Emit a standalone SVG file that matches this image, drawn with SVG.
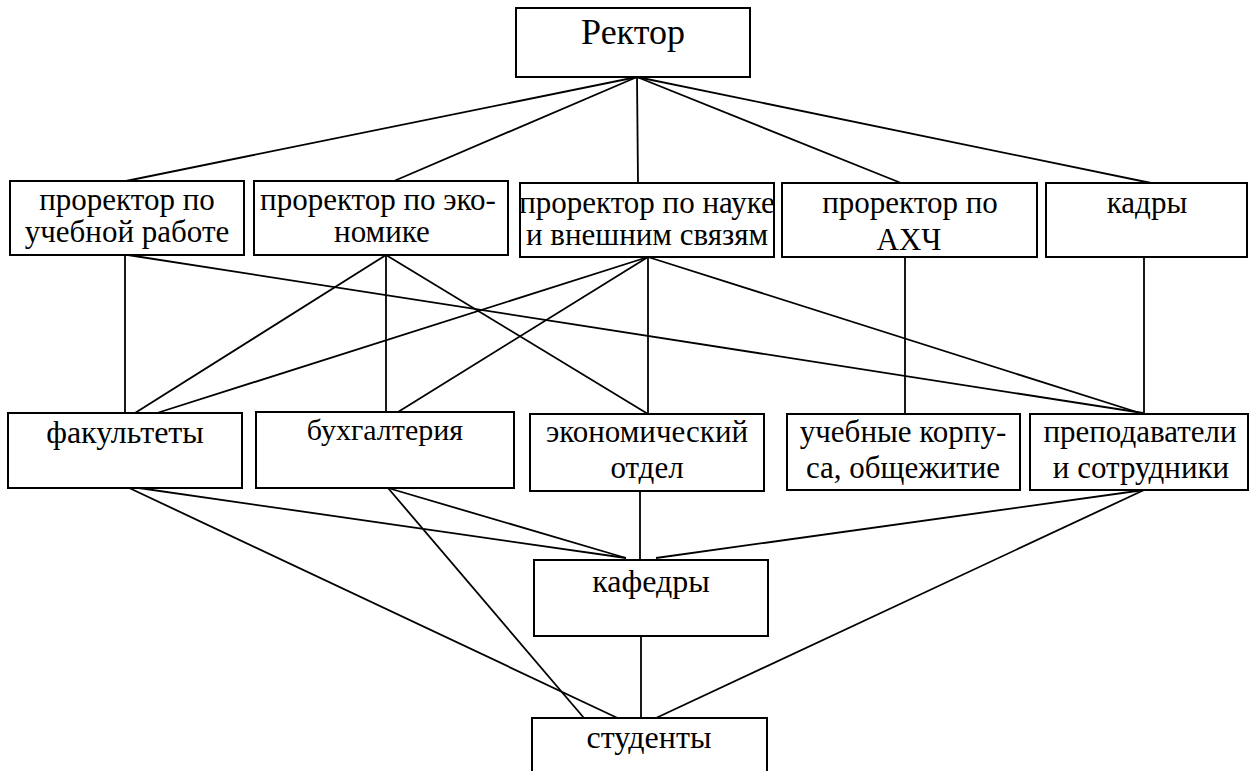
<svg xmlns="http://www.w3.org/2000/svg" width="1250" height="771" viewBox="0 0 1250 771" xml:lang="ru">
<style>
rect{fill:#fff;stroke:#000;stroke-width:2}
line{stroke:#000;stroke-width:1.8}
text{fill:#000;text-anchor:middle;font-family:'Liberation Serif','Times New Roman',serif !important}
</style>
<rect x="0" y="0" width="1250" height="771" style="stroke:none"/>
<g id="connectors">
<line x1="637" y1="77" x2="126" y2="181"/>
<line x1="637" y1="77" x2="394" y2="181"/>
<line x1="637" y1="77" x2="638" y2="183"/>
<line x1="637" y1="77" x2="901" y2="183"/>
<line x1="637" y1="77" x2="1151" y2="183"/>
<line x1="125" y1="255" x2="125" y2="413"/>
<line x1="128" y1="255" x2="1143" y2="413"/>
<line x1="386" y1="255" x2="135" y2="413"/>
<line x1="386" y1="255" x2="386" y2="412"/>
<line x1="386" y1="255" x2="648" y2="414"/>
<line x1="648" y1="257" x2="157" y2="413"/>
<line x1="648" y1="257" x2="398" y2="412"/>
<line x1="648" y1="257" x2="648" y2="414"/>
<line x1="648" y1="257" x2="1143" y2="414"/>
<line x1="905" y1="257" x2="905" y2="414"/>
<line x1="1144" y1="257" x2="1144" y2="414"/>
<line x1="125" y1="486" x2="626" y2="558"/>
<line x1="388" y1="488" x2="626" y2="558"/>
<line x1="640" y1="490" x2="640" y2="560"/>
<line x1="1144" y1="490" x2="656" y2="558"/>
<line x1="125" y1="486" x2="626" y2="722"/>
<line x1="388" y1="488" x2="584" y2="718"/>
<line x1="641" y1="636" x2="641" y2="718"/>
<line x1="1144" y1="490" x2="656" y2="718"/>
</g>
<g id="rector"><rect x="516" y="8" width="234" height="69"/><text style="font-family:'Liberation Serif',serif !important" font-size="36" x="633" y="44">Ректор</text></g>
<g id="prorector-ucheb"><rect x="10" y="181" width="234" height="74"/><text style="font-family:'Liberation Serif',serif !important" font-size="31" x="127" y="210">проректор по</text><text style="font-family:'Liberation Serif',serif !important" font-size="31" x="127" y="242">учебной работе</text></g>
<g id="prorector-econ"><rect x="254" y="181" width="254" height="74"/><text style="font-family:'Liberation Serif',serif !important" font-size="31" x="378" y="210">проректор по эко-</text><text style="font-family:'Liberation Serif',serif !important" font-size="31" x="382" y="242">номике</text></g>
<g id="prorector-nauka"><rect x="520" y="183" width="254" height="74"/><text style="font-family:'Liberation Serif',serif !important" font-size="31" x="647" y="213">проректор по науке</text><text style="font-family:'Liberation Serif',serif !important" font-size="31" x="647" y="245">и внешним связям</text></g>
<g id="prorector-ahch"><rect x="782" y="183" width="255" height="74"/><text style="font-family:'Liberation Serif',serif !important" font-size="31" x="910" y="213">проректор по</text><text style="font-family:'Liberation Serif',serif !important" font-size="31" x="909" y="250">АХЧ</text></g>
<g id="kadry"><rect x="1046" y="183" width="201" height="74"/><text style="font-family:'Liberation Serif',serif !important" font-size="31" x="1147" y="213">кадры</text></g>
<g id="fakultety"><rect x="8" y="413" width="234" height="75"/><text style="font-family:'Liberation Serif',serif !important" font-size="32" x="125" y="443">факультеты</text></g>
<g id="buhgalteria"><rect x="256" y="412" width="258" height="76"/><text style="font-family:'Liberation Serif',serif !important" font-size="30" x="385" y="440">бухгалтерия</text></g>
<g id="econ-otdel"><rect x="530" y="414" width="234" height="77"/><text style="font-family:'Liberation Serif',serif !important" font-size="31" x="647" y="442">экономический</text><text style="font-family:'Liberation Serif',serif !important" font-size="31" x="647" y="478">отдел</text></g>
<g id="korpusa"><rect x="787" y="414" width="233" height="76"/><text style="font-family:'Liberation Serif',serif !important" font-size="31" x="903" y="442">учебные корпу-</text><text style="font-family:'Liberation Serif',serif !important" font-size="31" x="903" y="478">са, общежитие</text></g>
<g id="prepod"><rect x="1030" y="414" width="218" height="76"/><text style="font-family:'Liberation Serif',serif !important" font-size="31" x="1140" y="442">преподаватели</text><text style="font-family:'Liberation Serif',serif !important" font-size="31" x="1141" y="478">и сотрудники</text></g>
<g id="kafedry"><rect x="534" y="560" width="234" height="76"/><text style="font-family:'Liberation Serif',serif !important" font-size="32" x="651" y="592">кафедры</text></g>
<g id="studenty"><rect x="532" y="718" width="235" height="80"/><text style="font-family:'Liberation Serif',serif !important" font-size="32" x="649" y="748">студенты</text></g>
</svg>
